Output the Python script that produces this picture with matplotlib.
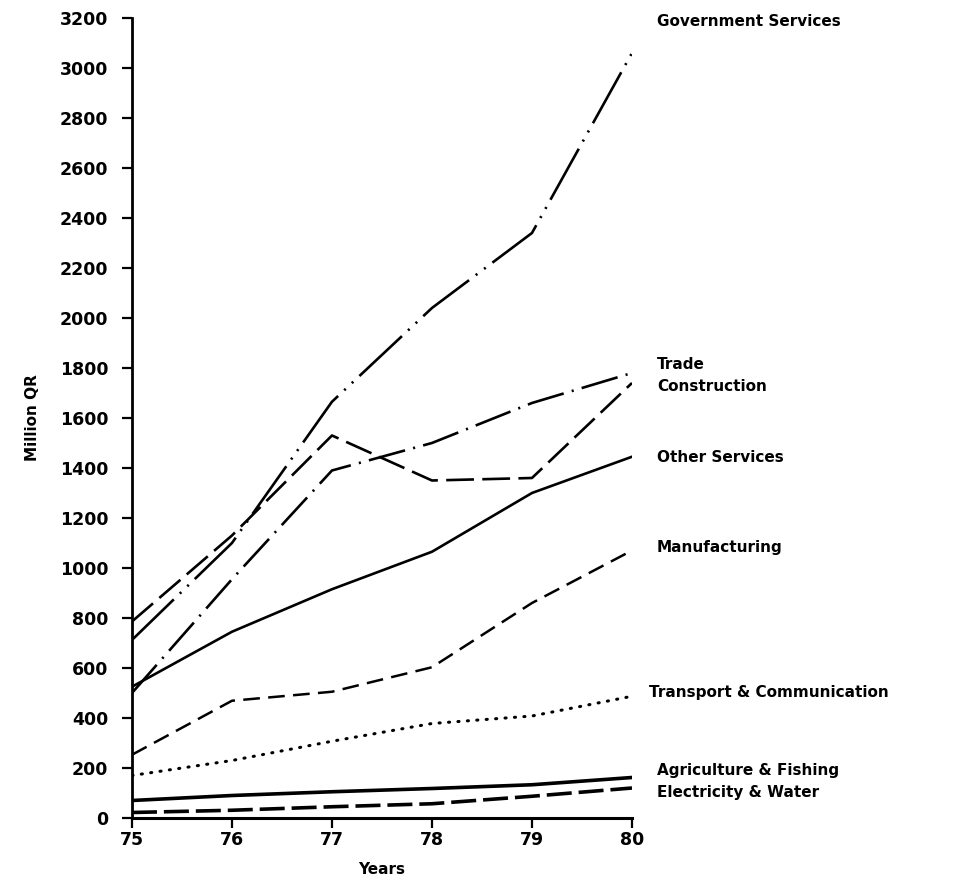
import numpy as np
import matplotlib
matplotlib.use("Agg")
import matplotlib.pyplot as plt

plt.rcParams["lines.scale_dashes"] = False
plt.rcParams["font.family"] = ["DejaVu Sans"]

years = [75, 76, 77, 78, 79, 80]

government = [712, 1100, 1665, 2040, 2340, 3060]
trade = [500, 955, 1390, 1500, 1660, 1780]
construction = [786, 1130, 1530, 1350, 1360, 1740]
other_services = [525, 745, 915, 1065, 1300, 1445]
manufacturing = [253, 469, 505, 603, 860, 1070]
transport = [170, 230, 307, 378, 408, 487]
agriculture = [70, 90, 105, 118, 133, 162]
electricity = [22, 31, 45, 57, 87, 120]

label_names = ["Government Services", "Trade", "Construction", "Other Services",
               "Manufacturing", "Transport & Communication",
               "Agriculture & Fishing", "Electricity & Water"]
label_y = [3185, 1815, 1725, 1440, 1080, 500, 192, 102]
label_x = [80.25, 80.25, 80.25, 80.25, 80.25, 80.17, 80.25, 80.25]

fig = plt.figure(figsize=(9.59, 8.85), dpi=100, facecolor="white")
ax = fig.add_axes([0.1376, 0.0757, 0.5214, 0.904])

ax.plot(years, government, color="black", lw=1.9,
        dashes=(42, 6, 1.5, 6, 1.5, 6))
ax.plot(years, trade, color="black", lw=1.9, dashes=(27, 6, 1.5, 6))
ax.plot(years, construction, color="black", lw=1.9, dashes=(20, 6))
ax.plot(years, other_services, color="black", lw=1.9)
ax.plot(years, manufacturing, color="black", lw=1.8, dashes=(12, 6))
ax.plot(years, transport, color="black", lw=2.2, dashes=(0.8, 6),
        dash_capstyle="round")
ax.plot(years, agriculture, color="black", lw=2.6)
ax.plot(years, electricity, color="black", lw=2.6, dashes=(18, 5))

for name, x, y in zip(label_names, label_x, label_y):
    ax.text(x, y, name, fontsize=11, fontweight="bold", ha="left",
            va="center", clip_on=False)

ax.set_xlim(75, 80)
ax.set_ylim(0, 3200)
ax.set_xticks(years)
ax.set_xticklabels([str(y) for y in years])
ax.set_yticks(np.arange(0, 3201, 200))

ax.spines["top"].set_visible(False)
ax.spines["right"].set_visible(False)
ax.spines["left"].set_linewidth(2)
ax.spines["bottom"].set_linewidth(2.2)
ax.tick_params(axis="both", direction="out", length=7, width=1.6,
               labelsize=12.5)
ax.tick_params(axis="y", pad=10)
ax.tick_params(axis="x", pad=2)
for t in ax.get_xticklabels() + ax.get_yticklabels():
    t.set_fontweight("bold")

ax.set_xlabel("Years", fontsize=11, fontweight="bold", labelpad=10)
ax.set_ylabel("Million QR", fontsize=11, fontweight="bold", labelpad=14)

fig.savefig("out.png", dpi=100, facecolor="white")
